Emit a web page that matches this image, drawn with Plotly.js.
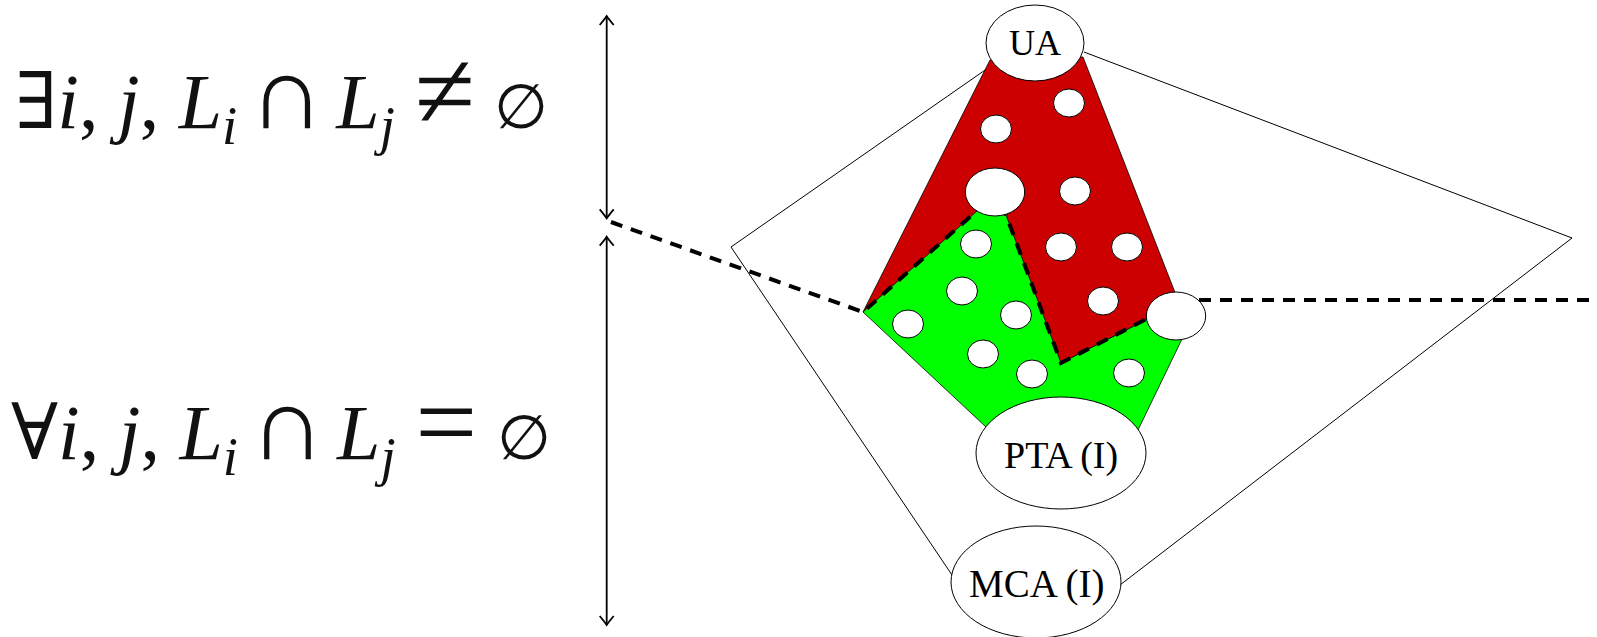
<!DOCTYPE html>
<html><head><meta charset="utf-8">
<script src="https://cdn.plot.ly/plotly-3.0.1.min.js"></script>
<style>html,body{margin:0;padding:0;background:#fff;overflow:hidden}#chart{width:1597px;height:637px}</style>
</head><body><div id="chart"></div>
<script>
// ---- diagram data (pixel space 1597x637) ----
const CAP = "<span style='font-family:Liberation Serif;font-size:104px'>";
const REL = "<span style='font-family:Liberation Serif;font-size:110px'>";
const EMPTY = "<span style='font-family:DejaVu Serif;font-size:62px'>";
const SP = "<span style='font-size:48px'> </span>";
const formulaTexts = [
  "∃<i>i</i>, <i>j</i>, <i>L</i><sub><i>i</i></sub>" + SP + CAP + "∩</span>" + SP + "<i>L</i><sub><i>j</i></sub> " + REL + "≠</span> " + EMPTY + "∅</span>",
  "∀<i>i</i>, <i>j</i>, <i>L</i><sub><i>i</i></sub>" + SP + CAP + "∩</span>" + SP + "<i>L</i><sub><i>j</i></sub> " + REL + "=</span> " + EMPTY + "∅</span>"
];
const formulaX = [13, 9];
const formulaY = [93, 424];

const arrowX = 606.7;
const arrowTop = [16, 236.7];
const arrowBottom = [218.3, 625];

const kiteLeftX = [988, 731, 952];
const kiteLeftY = [68, 247, 575];
const kiteRightX = [1084, 1572, 1120];
const kiteRightY = [52, 238, 585];

const redX = [990, 1083, 1176, 1146, 1061, 863];
const redY = [60, 57, 295, 320, 363, 312];
const greenX = [863, 977, 995, 1006, 1061, 1146, 1176, 1182, 1138, 1061, 986];
const greenY = [312, 211, 200, 215, 363, 320, 316, 339, 430, 453, 427];

const dashAX = [611, 863, 981];
const dashAY = [222, 312, 207];
const dashBX = [1002, 1061, 1160];
const dashBY = [204, 363, 312];
const dashCX = [1178, 1590];
const dashCY = [300, 300];

const holeX = [1069, 996, 1075, 1061, 1127, 1103, 976, 962, 1016, 908, 983, 1032, 1129];
const holeY = [103, 129, 191, 247, 247, 301, 244, 291, 315, 324, 354, 374, 373];
const bigHoleX = [995, 1176];
const bigHoleY = [192, 316];

const nodeNames = ["UA", "PTA (I)", "MCA (I)"];
const nodeX = [1035, 1061, 1036];
const nodeY = [43, 453, 582];
const nodeRX = [49, 85, 85];
const nodeRY = [38, 56, 56];
const nodeFont = [36, 38, 39];

// ---- build ----
function pathOf(xs, ys, close) {
  let p = "M " + xs[0] + "," + ys[0];
  for (let i = 1; i < xs.length; i++) p += " L " + xs[i] + "," + ys[i];
  return close ? p + " Z" : p;
}
const shapes = [];
const thin = {color: "#000", width: 1};
shapes.push({type: "path", xref: "x", yref: "y", path: pathOf(kiteLeftX, kiteLeftY), line: thin});
shapes.push({type: "path", xref: "x", yref: "y", path: pathOf(kiteRightX, kiteRightY), line: thin});
shapes.push({type: "path", xref: "x", yref: "y", path: pathOf(redX, redY, true), fillcolor: "#CC0000", line: {color: "#000", width: 0.8}});
shapes.push({type: "path", xref: "x", yref: "y", path: pathOf(greenX, greenY, true), fillcolor: "#00FF00", line: {color: "#000", width: 0.8}});
const dashLine = {color: "#000", width: 4, dash: "12px,9px"};
[[dashAX, dashAY], [dashBX, dashBY], [dashCX, dashCY]].forEach(function (d) {
  shapes.push({type: "path", xref: "x", yref: "y", path: pathOf(d[0], d[1]), line: dashLine});
});
// arrows
const arrowLine = {color: "#000", width: 1.8};
for (let k = 0; k < arrowTop.length; k++) {
  const t = arrowTop[k], b = arrowBottom[k];
  shapes.push({type: "line", xref: "x", yref: "y", x0: arrowX, x1: arrowX, y0: t, y1: b, line: arrowLine});
  shapes.push({type: "path", xref: "x", yref: "y", path: "M " + (arrowX - 7) + "," + (t + 9) + " Q " + (arrowX - 2) + "," + (t + 3) + " " + arrowX + "," + t + " Q " + (arrowX + 2) + "," + (t + 3) + " " + (arrowX + 7) + "," + (t + 9), line: arrowLine});
  shapes.push({type: "path", xref: "x", yref: "y", path: "M " + (arrowX - 7) + "," + (b - 9) + " Q " + (arrowX - 2) + "," + (b - 3) + " " + arrowX + "," + b + " Q " + (arrowX + 2) + "," + (b - 3) + " " + (arrowX + 7) + "," + (b - 9), line: arrowLine});
}
function ellipse(cx, cy, rx, ry) {
  shapes.push({type: "circle", xref: "x", yref: "y", x0: cx - rx, x1: cx + rx, y0: cy - ry, y1: cy + ry, fillcolor: "#fff", line: {color: "#000", width: 1}});
}
for (let i = 0; i < holeX.length; i++) ellipse(holeX[i], holeY[i], 15.5, 14);
for (let i = 0; i < bigHoleX.length; i++) ellipse(bigHoleX[i], bigHoleY[i], 29.7, 24);
for (let i = 0; i < nodeNames.length; i++) ellipse(nodeX[i], nodeY[i], nodeRX[i], nodeRY[i]);

const annotations = [];
for (let i = 0; i < nodeNames.length; i++) {
  annotations.push({x: nodeX[i], y: nodeY[i], xref: "x", yref: "y", text: nodeNames[i], showarrow: false,
    xanchor: "center", yanchor: "middle", yshift: i === 0 ? 0 : -2,
    font: {family: "Liberation Serif, Times New Roman, serif", size: nodeFont[i], color: "#000"}});
}
for (let i = 0; i < formulaTexts.length; i++) {
  annotations.push({x: formulaX[i], y: formulaY[i], xref: "x", yref: "y", text: formulaTexts[i], showarrow: false,
    xanchor: "left", yanchor: "middle", font: {family: "Liberation Serif, DejaVu Serif, serif", size: 78, color: "#111"}});
}

const layout = {
  width: 1597, height: 637,
  margin: {l: 0, r: 0, t: 0, b: 0, pad: 0},
  paper_bgcolor: "#fff", plot_bgcolor: "#fff",
  showlegend: false,
  xaxis: {range: [0, 1597], visible: false, fixedrange: true},
  yaxis: {range: [637, 0], visible: false, fixedrange: true},
  shapes: shapes,
  annotations: annotations
};
Plotly.newPlot("chart", [{x: [], y: [], type: "scatter", hoverinfo: "skip"}], layout, {staticPlot: true, displayModeBar: false});
</script>
</body></html>
